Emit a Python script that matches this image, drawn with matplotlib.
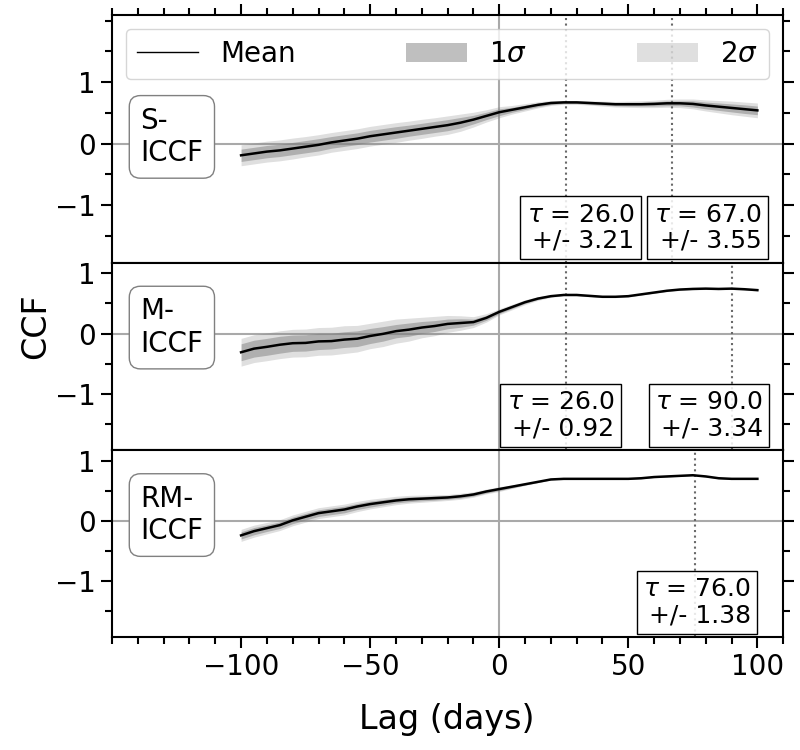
import numpy as np
import matplotlib.pyplot as plt
from matplotlib.lines import Line2D
from matplotlib.patches import Patch
from matplotlib.ticker import MultipleLocator

# lag grid (days)
lags = np.arange(-100, 101, 5)

# S-ICCF
s_mean = [-0.19, -0.16, -0.13, -0.11, -0.08, -0.05, -0.02, 0.02, 0.05, 0.08,
          0.12, 0.15, 0.18, 0.21, 0.24, 0.27, 0.30, 0.34, 0.39, 0.45,
          0.51, 0.55, 0.59, 0.63, 0.66, 0.67, 0.67, 0.66, 0.65, 0.64,
          0.64, 0.64, 0.645, 0.655, 0.655, 0.645, 0.62, 0.60, 0.58, 0.56, 0.54]
s_sig1 = [0.10, 0.10, 0.10, 0.10, 0.10, 0.10, 0.10, 0.095, 0.095, 0.095,
          0.095, 0.095, 0.095, 0.09, 0.09, 0.09, 0.09, 0.085, 0.07, 0.06,
          0.055, 0.04, 0.035, 0.03, 0.025, 0.02, 0.02, 0.02, 0.025, 0.025,
          0.03, 0.03, 0.035, 0.04, 0.04, 0.05, 0.055, 0.06, 0.065, 0.07, 0.07]
s_sig2 = [0.17, 0.17, 0.17, 0.17, 0.17, 0.165, 0.165, 0.16, 0.16, 0.16,
          0.16, 0.16, 0.16, 0.155, 0.155, 0.15, 0.15, 0.14, 0.12, 0.10,
          0.09, 0.07, 0.06, 0.05, 0.04, 0.03, 0.03, 0.035, 0.04, 0.045,
          0.05, 0.055, 0.06, 0.065, 0.07, 0.08, 0.09, 0.10, 0.11, 0.115, 0.12]

# M-ICCF
m_mean = [-0.31, -0.25, -0.22, -0.185, -0.16, -0.155, -0.13, -0.125, -0.10, -0.085,
          -0.04, -0.005, 0.04, 0.065, 0.10, 0.125, 0.16, 0.175, 0.19, 0.26,
          0.36, 0.44, 0.52, 0.58, 0.62, 0.64, 0.64, 0.625, 0.61, 0.61,
          0.62, 0.65, 0.68, 0.71, 0.73, 0.74, 0.745, 0.74, 0.745, 0.735, 0.72]
m_sig1 = [0.14, 0.14, 0.14, 0.14, 0.135, 0.135, 0.135, 0.13, 0.13, 0.13,
          0.125, 0.12, 0.11, 0.11, 0.10, 0.09, 0.08, 0.07, 0.05, 0.04,
          0.03, 0.025, 0.02, 0.015, 0.01, 0.008, 0.008, 0.008, 0.008, 0.008,
          0.008, 0.008, 0.008, 0.008, 0.008, 0.008, 0.008, 0.008, 0.008, 0.008, 0.008]
m_sig2 = [0.23, 0.23, 0.23, 0.23, 0.23, 0.23, 0.23, 0.23, 0.23, 0.22,
          0.21, 0.21, 0.20, 0.19, 0.17, 0.16, 0.14, 0.12, 0.09, 0.07,
          0.05, 0.045, 0.04, 0.03, 0.02, 0.015, 0.015, 0.015, 0.015, 0.015,
          0.015, 0.015, 0.015, 0.015, 0.015, 0.015, 0.015, 0.015, 0.015, 0.015, 0.015]

# RM-ICCF
rm_mean = [-0.24, -0.17, -0.12, -0.07, 0.01, 0.07, 0.13, 0.16, 0.19, 0.24,
           0.28, 0.31, 0.34, 0.36, 0.37, 0.38, 0.39, 0.41, 0.44, 0.49,
           0.53, 0.57, 0.61, 0.65, 0.69, 0.70, 0.70, 0.70, 0.70, 0.70,
           0.70, 0.71, 0.73, 0.74, 0.75, 0.76, 0.74, 0.71, 0.70, 0.70, 0.70]
rm_sig1 = [0.06, 0.06, 0.055, 0.055, 0.055, 0.055, 0.055, 0.055, 0.055, 0.05,
           0.05, 0.045, 0.04, 0.04, 0.035, 0.035, 0.03, 0.03, 0.027, 0.025,
           0.025, 0.02, 0.012, 0.01, 0.006, 0.006, 0.006, 0.006, 0.006, 0.006,
           0.006, 0.006, 0.006, 0.006, 0.006, 0.006, 0.006, 0.006, 0.006, 0.006, 0.006]
rm_sig2 = [0.10, 0.10, 0.095, 0.09, 0.09, 0.09, 0.09, 0.09, 0.09, 0.085,
           0.08, 0.075, 0.07, 0.065, 0.06, 0.055, 0.05, 0.05, 0.045, 0.04,
           0.04, 0.03, 0.02, 0.015, 0.01, 0.01, 0.01, 0.01, 0.01, 0.01,
           0.01, 0.01, 0.01, 0.01, 0.01, 0.01, 0.01, 0.01, 0.01, 0.01, 0.01]

panel_names = ['S-\nICCF', 'M-\nICCF', 'RM-\nICCF']
panel_taus = [[26.0, 67.0], [26.0, 90.0], [76.0]]
panel_errs = [[3.21, 3.55], [0.92, 3.34], [1.38]]
# where the tau boxes sit (x centre, days)
box_x = [[31.5, 80.7], [23.8, 81.2], [76.6]]

means = [s_mean, m_mean, rm_mean]
sig1s = [s_sig1, m_sig1, rm_sig1]
sig2s = [s_sig2, m_sig2, rm_sig2]

fig = plt.figure(figsize=(8, 7.5), dpi=100)
gs = fig.add_gridspec(3, 1, height_ratios=[248, 187, 187], hspace=0,
                      left=0.14, right=0.979, top=0.98, bottom=0.1507)
axes = [fig.add_subplot(gs[i]) for i in range(3)]
ylims = [(-1.94, 2.09), (-1.93, 1.17), (-1.93, 1.18)]

for i, ax in enumerate(axes):
    mu = np.array(means[i])
    s1 = np.array(sig1s[i])
    s2 = np.array(sig2s[i])

    ax.axhline(0, color='darkgray', lw=1.5, zorder=0)
    ax.axvline(0, color='darkgray', lw=1.5, zorder=0)
    ax.fill_between(lags, mu - s2, mu + s2, color='gray', alpha=0.25, lw=0)
    ax.fill_between(lags, mu - s1, mu + s1, color='gray', alpha=0.5, lw=0)
    ax.plot(lags, mu, color='black', lw=1.8)

    for tau, err, bx in zip(panel_taus[i], panel_errs[i], box_x[i]):
        ax.axvline(tau, color='dimgray', ls=':', lw=1.5, zorder=1)
        ax.text(bx, -1.77, r'$\tau$ = %.1f' % tau + '\n+/- %.2f' % err,
                ha='center', va='bottom', multialignment='right', fontsize=18,
                zorder=5, linespacing=1.1,
                bbox=dict(boxstyle='square,pad=0.25', fc=(1, 1, 1, 0.85),
                          ec='black', lw=1))

    ax.text(-139, 0.6, panel_names[i], ha='left', va='top', fontsize=20,
            zorder=5,
            bbox=dict(boxstyle='round,pad=0.4', fc='white', ec='gray', lw=1))

    ax.set_xlim(-150, 110)
    ax.set_ylim(*ylims[i])
    ax.set_xticks([-100, -50, 0, 50, 100])
    ax.xaxis.set_minor_locator(MultipleLocator(10))
    ax.set_yticks([-1, 0, 1])
    ax.yaxis.set_minor_locator(MultipleLocator(0.5))
    ax.tick_params(which='both', direction='out', width=1.5, labelsize=20,
                   left=True, right=True, top=(i == 0), bottom=(i == 2),
                   labelbottom=(i == 2))
    ax.tick_params(which='major', length=8)
    ax.tick_params(which='minor', length=5)
    for sp in ax.spines.values():
        sp.set_linewidth(1.5)

handles = [Line2D([], [], color='black', lw=1),
           Patch(color='gray', alpha=0.5, lw=0),
           Patch(color='gray', alpha=0.25, lw=0)]
axes[0].legend(handles, ['Mean', r'$1\sigma$', r'$2\sigma$'], ncol=3,
               loc='upper left', bbox_to_anchor=(0, 0, 1, 1), mode='expand',
               fontsize=20, handlelength=2.2)

fig.text(0.559, 0.04, 'Lag (days)', ha='center', va='center', fontsize=24)
fig.text(0.044, 0.565, 'CCF', ha='center', va='center', rotation=90, fontsize=24)

fig.savefig('out.png', dpi=100)
